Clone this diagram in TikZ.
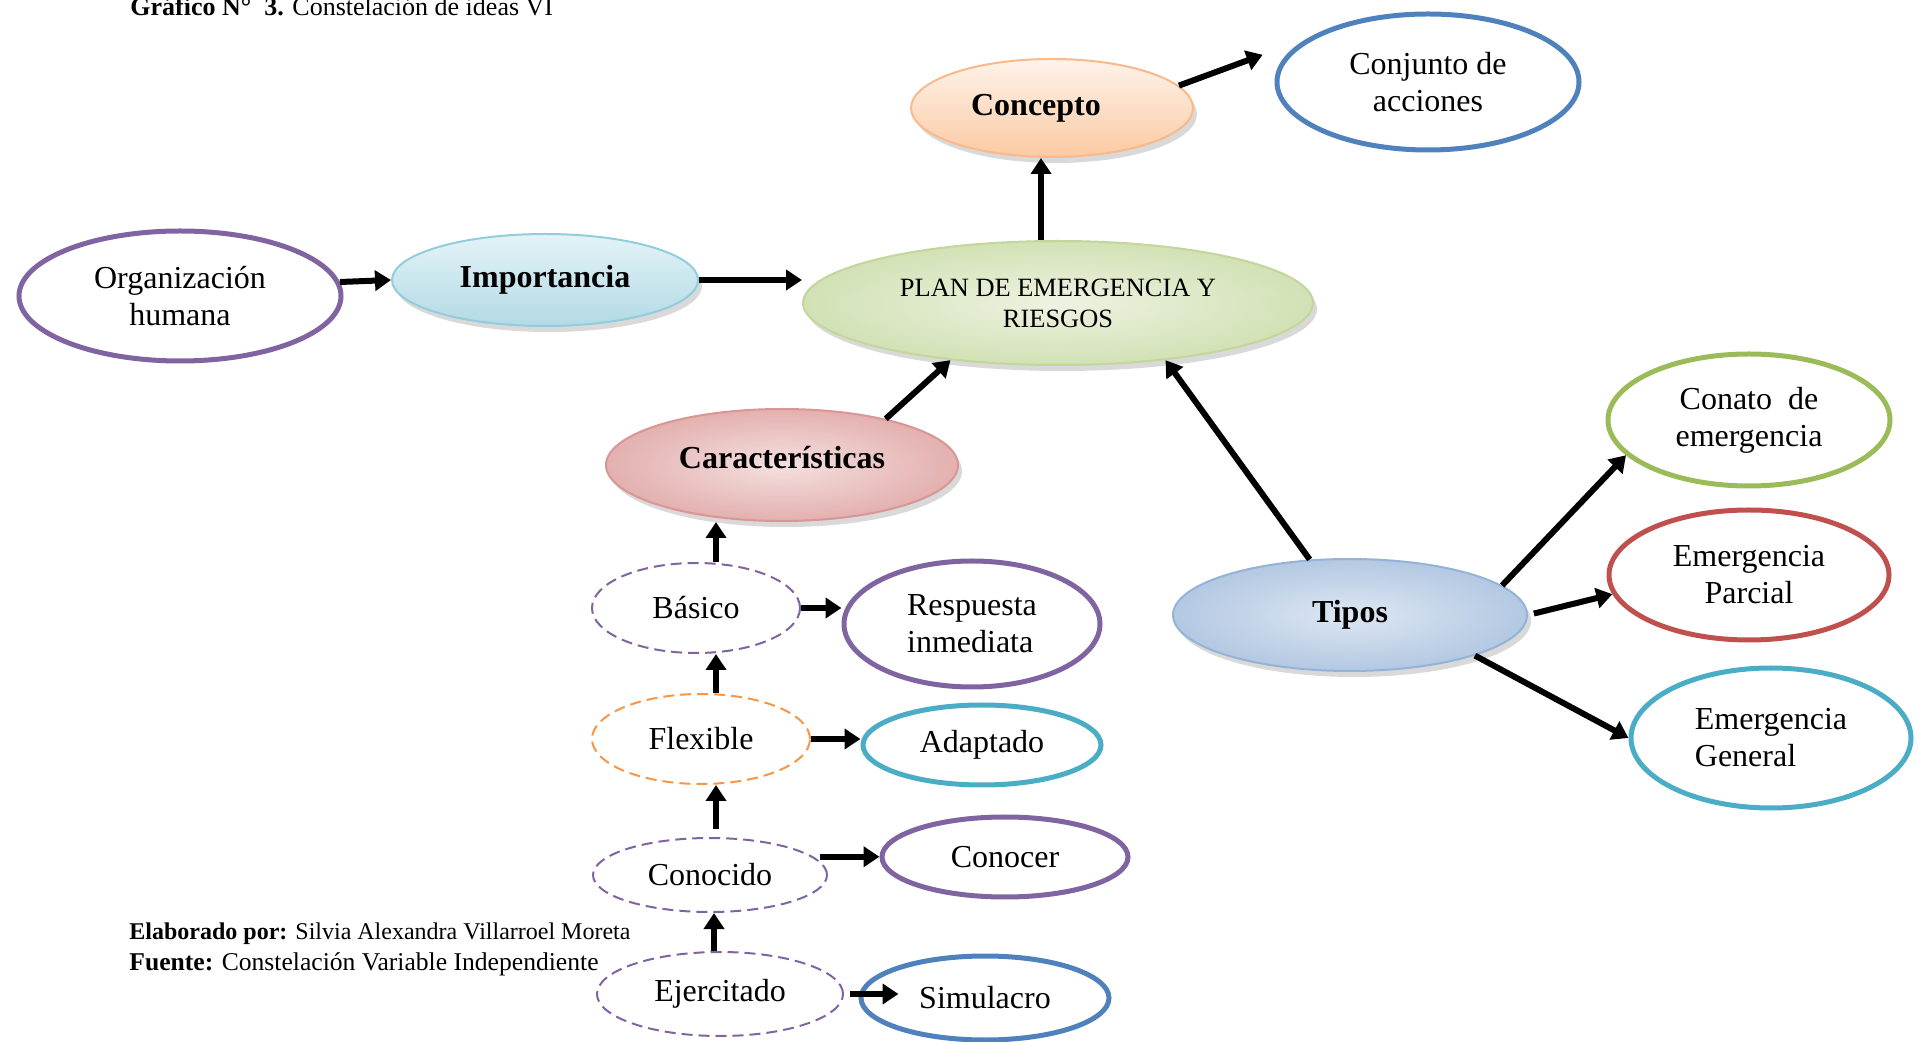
\documentclass[tikz,border=0pt]{standalone}
\usepackage{fontspec}
\setmainfont{Liberation Serif}
\usetikzlibrary{arrows.meta,shapes.geometric,shadows}

\definecolor{lila}{HTML}{8064A2}
\definecolor{azul}{HTML}{4F81BD}
\definecolor{verde}{HTML}{9BBB59}
\definecolor{rojo}{HTML}{C0504D}
\definecolor{turquesa}{HTML}{4BACC6}
\definecolor{naranja}{HTML}{F79646}
% rellenos de las elipses sombreadas
\definecolor{planborde}{HTML}{C3D69B}
\definecolor{planin}{HTML}{EDF3E1}
\definecolor{planout}{HTML}{D2E1B5}
\definecolor{concborde}{HTML}{F9B98A}
\definecolor{concarriba}{HTML}{FEF3EA}
\definecolor{concabajo}{HTML}{FBCAA3}
\definecolor{impborde}{HTML}{93CDDD}
\definecolor{imparriba}{HTML}{E4F3F7}
\definecolor{impabajo}{HTML}{B2DAE5}
\definecolor{tipoborde}{HTML}{95B3D7}
\definecolor{tipoin}{HTML}{DDE7F3}
\definecolor{tipoout}{HTML}{B3C8E2}
\definecolor{carborde}{HTML}{D99694}
\definecolor{carin}{HTML}{F4E0DF}
\definecolor{carout}{HTML}{E3B0AF}

\begin{document}
\begin{tikzpicture}[
			x=0.5pt, y=-0.5pt,
			every node/.style={font=\fontsize{16}{18.5}\selectfont, align=center},
			ring/.style={draw, ellipse, line width=2.5pt, inner sep=0pt},
			glossy/.style={draw, ellipse, line width=1pt, inner sep=0pt,
					drop shadow={shadow xshift=2pt, shadow yshift=-3pt, opacity=0.3}},
			dotring/.style={draw, ellipse, line width=1pt, dash pattern=on 5.5pt off 3pt, inner sep=0pt},
			arr/.style={line width=3pt, -{Triangle[width=10pt,length=8pt]}},
			nota/.style={anchor=base west, inner sep=0pt},
		]
		\useasboundingbox (0,0) rectangle (1929,1042);

		\node[nota, font=\fontsize{13}{15}\selectfont] (titulo) at (130,16) {\textbf{Gráfico N°\ \ 3.} Constelación de ideas VI};

		% centro y ramas superiores
		\node[glossy, draw=planborde, inner color=planin, outer color=planout,
			minimum width=255pt, minimum height=62pt, font=\fontsize{13.2}{15.5}\selectfont] (plan) at (1058,303) {PLAN DE EMERGENCIA Y\\RIESGOS};
		\node[glossy, draw=concborde, top color=concarriba, bottom color=concabajo,
			minimum width=141pt, minimum height=49pt] (conc) at (1052,108) {\textbf{Concepto}\hspace*{16pt}};
		\node[ring, draw=azul, minimum width=151pt, minimum height=68pt] (conj) at (1428,82) {Conjunto de\\acciones};
		\node[glossy, draw=impborde, top color=imparriba, bottom color=impabajo,
			minimum width=153pt, minimum height=46pt] (imp) at (545,280) {\textbf{Importancia}};
		\node[ring, draw=lila, minimum width=161pt, minimum height=65pt] (org) at (180,296) {Organización\\humana};

		\draw[arr] (org.5) -- (imp.west);
		\draw[arr] (imp.east) -- (imp.east -| plan.west);
		\draw[arr] ([xshift=-8.5pt]plan.north) -- ([xshift=-8.5pt]plan.north |- conc.south);
		\draw[arr, shorten >=24pt] (conc.10) -- (conj.160);

		% tipos
		\node[glossy, draw=tipoborde, inner color=tipoin, outer color=tipoout,
			minimum width=177pt, minimum height=56pt] (tipos) at (1350,615) {\textbf{Tipos}};
		\node[ring, draw=verde, minimum width=141pt, minimum height=66pt] (conato) at (1749,420) {Conato\ \ de\\emergencia};
		\node[ring, draw=rojo, minimum width=140pt, minimum height=65pt] (parcial) at (1749,575) {Emergencia\\Parcial};
		\node[ring, draw=turquesa, minimum width=140pt, minimum height=70pt, align=left] (general) at (1771,738) {Emergencia\\General};

		\draw[arr] (tipos.126) -- (plan.-28);
		\draw[arr] (tipos.11) -- (conato.196);
		\draw[arr, shorten <=3pt] (tipos.east) -- (parcial.188);
		\draw[arr] (tipos.-18) -- (general.west);

		% caracteristicas
		\node[glossy, draw=carborde, inner color=carin, outer color=carout,
			minimum width=176pt, minimum height=56pt] (car) at (782,465) {\raisebox{8pt}{\textbf{Características}}};
		\draw[arr] (car.24) -- (plan.208);

		\node[dotring, draw=lila, minimum width=104pt, minimum height=45pt] (basico) at (696,608) {Básico};
		\node[dotring, draw=naranja, minimum width=109pt, minimum height=45pt] (flex) at (701,739) {Flexible};
		\node[dotring, draw=lila, minimum width=117pt, minimum height=37pt] (conoc) at (710,875) {Conocido};
		\node[dotring, draw=lila, minimum width=123pt, minimum height=42pt] (ejer) at (720,994) {Ejercitado};

		\node[ring, draw=lila, minimum width=128pt, minimum height=63pt, align=left] (resp) at (972,624) {Respuesta\\inmediata};
		\node[ring, draw=turquesa, minimum width=119pt, minimum height=40pt] (adapt) at (982,745) {Adaptado};
		\node[ring, draw=lila, minimum width=123pt, minimum height=40pt] (conocer) at (1005,857) {Conocer};
		\node[ring, draw=azul, minimum width=124pt, minimum height=42pt] (simul) at (985,998) {Simulacro};

		\draw[arr] ([xshift=10pt]basico.north) -- ([xshift=10pt]basico.north |- car.south);
		\draw[arr] ([xshift=7.5pt]flex.north) -- ([xshift=7.5pt]flex.north |- basico.south);
		\draw[arr, shorten <=4pt] ([xshift=3pt]conoc.north) -- ([xshift=3pt]conoc.north |- flex.south);
		\draw[arr] ([xshift=-3pt]ejer.north) -- ([xshift=-3pt]ejer.north |- conoc.south);

		\draw[arr] (basico.east) -- (basico.east -| resp.west);
		\draw[arr] (flex.east) -- (flex.east -| adapt.west);
		\draw[arr, shorten <=3pt] (conoc.10) -- (conoc.10 -| conocer.west);
		\draw[arr, shorten >=-20pt, shorten <=3pt] (ejer.east) -- (ejer.east -| simul.west);

		\node[nota, font=\fontsize{12}{14}\selectfont] (autor) at (129,939) {\textbf{Elaborado por:} Silvia Alexandra Villarroel Moreta};
		\node[nota, font=\fontsize{12.8}{15}\selectfont] (fuente) at (129,970) {\textbf{Fuente:} Constelación Variable Independiente};
	\end{tikzpicture}
\end{document}
